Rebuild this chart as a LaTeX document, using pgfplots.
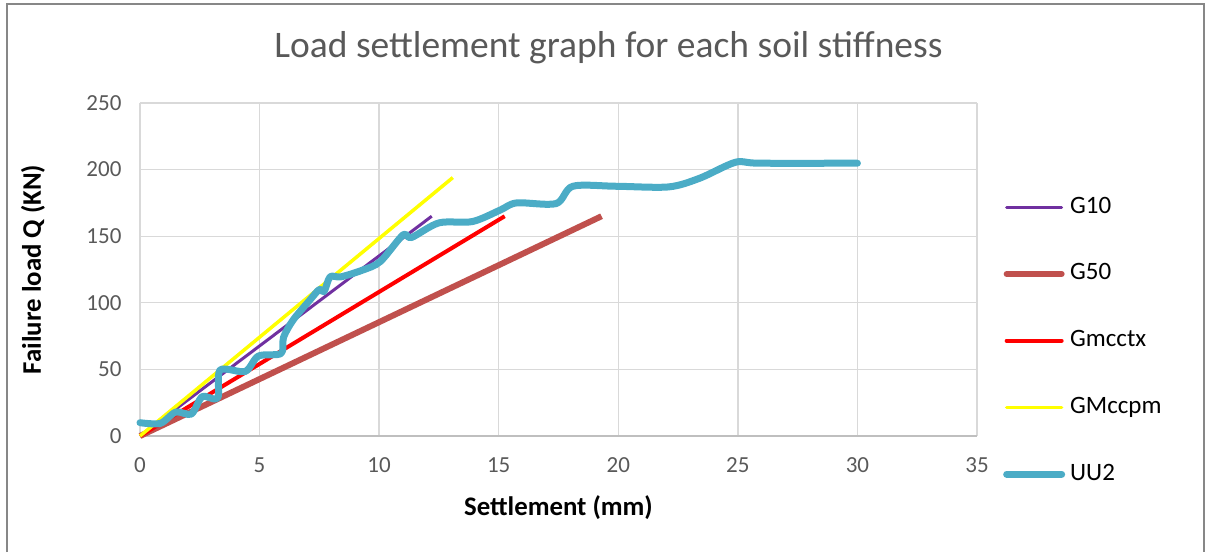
\documentclass[border=0pt]{standalone}
\usepackage{pgfplots}
\pgfplotsset{compat=1.18}
\usepackage{fontspec}
\setmainfont{Carlito}
\definecolor{cG10}{HTML}{7030A0}
\definecolor{cG50}{HTML}{C0504D}
\definecolor{cGmc}{HTML}{FF0000}
\definecolor{cGpm}{HTML}{FFFF00}
\definecolor{cUU}{HTML}{4BACC6}
\definecolor{gridc}{HTML}{D9D9D9}
\definecolor{txtg}{HTML}{595959}
\definecolor{bord}{HTML}{878787}
\begin{document}
\begin{tikzpicture}
\path[use as bounding box] (-140pt,-116pt) rectangle (1069pt,436pt);
\draw[bord, line width=1.5pt] (-133pt,-116pt) -- (-133pt,432pt) -- (1064pt,432pt) -- (1064pt,-116pt);
\begin{axis}[
  at={(0pt,0pt)}, anchor=origin,
  width=837pt, height=333pt, scale only axis,
  xmin=0, xmax=35, ymin=0, ymax=250,
  xtick={0,5,...,35}, ytick={0,50,...,250},
  grid=major, grid style={gridc, line width=1.3pt},
  axis line style={draw=none},
  major tick length=0pt,
  /pgf/number format/assume math mode=true,
  tick label style={font=\fontsize{23}{27}\selectfont, color=txtg},
  x tick label style={yshift=-18pt},
  y tick label style={xshift=-15pt},
  xlabel={\textbf{Settlement (mm)}},
  ylabel={\textbf{Failure load Q (KN)}},
  label style={font=\fontsize{26.8}{32}\selectfont},
  xlabel style={at={(axis description cs:0.5,0)}, anchor=north, yshift=-56pt},
  ylabel style={at={(axis description cs:-0.1278,0.5)}, anchor=center, rotate=0},
  title={Load settlement graph for each soil stiffness},
  title style={font=\fontsize{37.5}{44}\selectfont, color=txtg, at={(axis description cs:0.5597,1.12)}, anchor=base},
  legend image code/.code={\draw[#1, line cap=round] (0pt,0pt) -- (55pt,0pt);},
  legend style={draw=none, fill=none, at={(rel axis cs:1.031,0.7237)}, anchor=north west,
    font=\fontsize{25}{30}\selectfont, row sep=42.75pt, inner sep=0pt,
    nodes={inner sep=0pt, text height=18pt, text depth=6pt},
    /tikz/every odd column/.append style={column sep=5pt}},
  legend cell align=left,
  clip=false,
]
\draw[gray!50, line width=2pt] (axis cs:0,0) -- (axis cs:35,0);
\addplot[cG10, line width=3pt] coordinates {(0,0) (12.2,165)};
\addlegendentry{G10}
\addplot[cG50, line width=6pt] coordinates {(0,0) (19.3,165)};
\addlegendentry{G50}
\addplot[cGmc, line width=4pt] coordinates {(0,0) (15.25,165)};
\addlegendentry{Gmcctx}
\addplot[cGpm, line width=3.5pt] coordinates {(0,0) (13.08,194)};
\addlegendentry{GMccpm}
\addplot[cUU, line width=7pt, smooth, tension=0.5, line cap=round, line join=round] coordinates {
(0,10) (0.85,9.5) (1.5,18) (2.15,16.5) (2.6,29.5) (3.25,28.5) (3.35,49.5) (4.4,48.5)
(4.95,60) (5.9,62) (6.0,74) (6.4,87) (7.1,102) (7.5,110) (7.7,108.5) (7.95,119.5)
(8.4,119.5) (9.3,124.5) (10.05,131) (11.0,151) (11.35,149) (12.5,160) (13.9,161)
(15.05,169.5) (15.75,175) (17.4,174.5) (18.1,187.5) (19.9,187.5) (22.1,187)
(23.4,193.5) (24.9,205.5) (25.9,204.8) (30,204.8)};
\addlegendentry{UU2}
\end{axis}
\end{tikzpicture}
\end{document}
